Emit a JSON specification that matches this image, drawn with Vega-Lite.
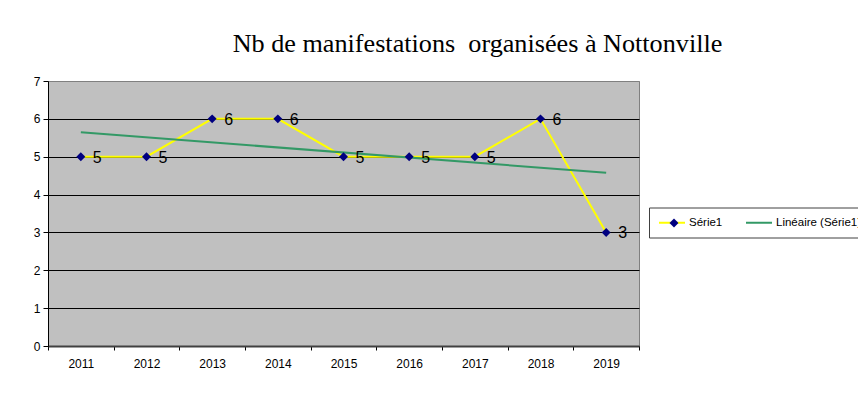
{
  "$schema": "https://vega.github.io/schema/vega-lite/v6.json",
  "width": 591,
  "height": 265,
  "autosize": {"type": "none"},
  "padding": {"left": 48, "top": 81, "right": 219, "bottom": 65},
  "background": "white",
  "title": {
    "text": "Nb de manifestations\u00a0 organisées à Nottonville",
    "font": "Liberation Serif",
    "fontSize": 26.2,
    "fontWeight": "normal",
    "color": "black",
    "anchor": "middle",
    "dx": 134,
    "offset": 18
  },
  "config": {
    "view": {"fill": "#C0C0C0", "stroke": "#808080", "strokeWidth": 1}
  },
  "data": {
    "values": [
      {"year": 2011, "value": 5},
      {"year": 2012, "value": 5},
      {"year": 2013, "value": 6},
      {"year": 2014, "value": 6},
      {"year": 2015, "value": 5},
      {"year": 2016, "value": 5},
      {"year": 2017, "value": 5},
      {"year": 2018, "value": 6},
      {"year": 2019, "value": 3}
    ]
  },
  "encoding": {
    "x": {
      "field": "year",
      "type": "ordinal",
      "scale": {"type": "band", "paddingInner": 0, "paddingOuter": 0},
      "axis": {
        "title": null,
        "tickBand": "extent",
        "labelAngle": 0,
        "labelFont": "Liberation Sans",
        "labelFontSize": 12,
        "labelColor": "black",
        "tickColor": "black",
        "tickSize": 4,
        "domainColor": "#404040",
        "domainWidth": 2,
        "labelPadding": 8,
        "grid": false
      }
    },
    "y": {
      "field": "value",
      "type": "quantitative",
      "scale": {"domain": [0, 7], "nice": false},
      "axis": {
        "title": null,
        "values": [0, 1, 2, 3, 4, 5, 6, 7],
        "grid": true,
        "gridColor": {"condition": {"test": "datum.value == 7", "value": "#808080"}, "value": "black"},
        "gridWidth": 1,
        "tickSize": 5,
        "tickColor": "black",
        "labelPadding": 3,
        "domainColor": "black",
        "labelFont": "Liberation Sans",
        "labelFontSize": 12,
        "labelColor": "black"
      }
    }
  },
  "layer": [
    {
      "mark": {"type": "line", "strokeWidth": 2},
      "encoding": {
        "color": {
          "datum": "Série1",
          "type": "nominal",
          "scale": {"domain": ["Série1", "Linéaire (Série1)"], "range": ["#FFFF00", "#339966"]},
          "legend": {
            "orient": "none",
            "direction": "horizontal",
            "legendX": 601,
            "legendY": 126.5,
            "title": null,
            "symbolType": "M-1,0L4.2,0",
            "symbolStrokeWidth": 2,
            "symbolSize": 100,
            "labelFont": "Liberation Sans",
            "labelFontSize": 11.5,
            "labelColor": "black",
            "labelOffset": 19,
            "columnPadding": 19,
            "padding": 9,
            "fillColor": "white",
            "strokeColor": "#404040",
            "cornerRadius": 0,
            "zindex": 1
          }
        }
      }
    },
    {
      "transform": [{"regression": "value", "on": "year"}],
      "mark": {"type": "line", "strokeWidth": 2, "color": "#339966"},
      "encoding": {}
    },
    {
      "mark": {"type": "point", "shape": "diamond", "filled": true, "size": 80, "opacity": 1},
      "encoding": {
        "fill": {
          "datum": "Série1",
          "type": "nominal",
          "scale": {"range": ["#000080"]},
          "legend": {
            "orient": "none",
            "legendX": 621,
            "legendY": 137,
            "title": null,
            "symbolType": "diamond",
            "symbolSize": 80,
            "symbolStrokeWidth": 0,
            "labelExpr": "''",
            "padding": 0,
            "zindex": 2
          }
        }
      }
    },
    {
      "mark": {
        "type": "text",
        "align": "left",
        "baseline": "middle",
        "dx": 12,
        "dy": 1,
        "font": "Liberation Sans",
        "fontSize": 16,
        "color": "black"
      },
      "encoding": {"text": {"field": "value", "type": "quantitative"}}
    }
  ]
}
